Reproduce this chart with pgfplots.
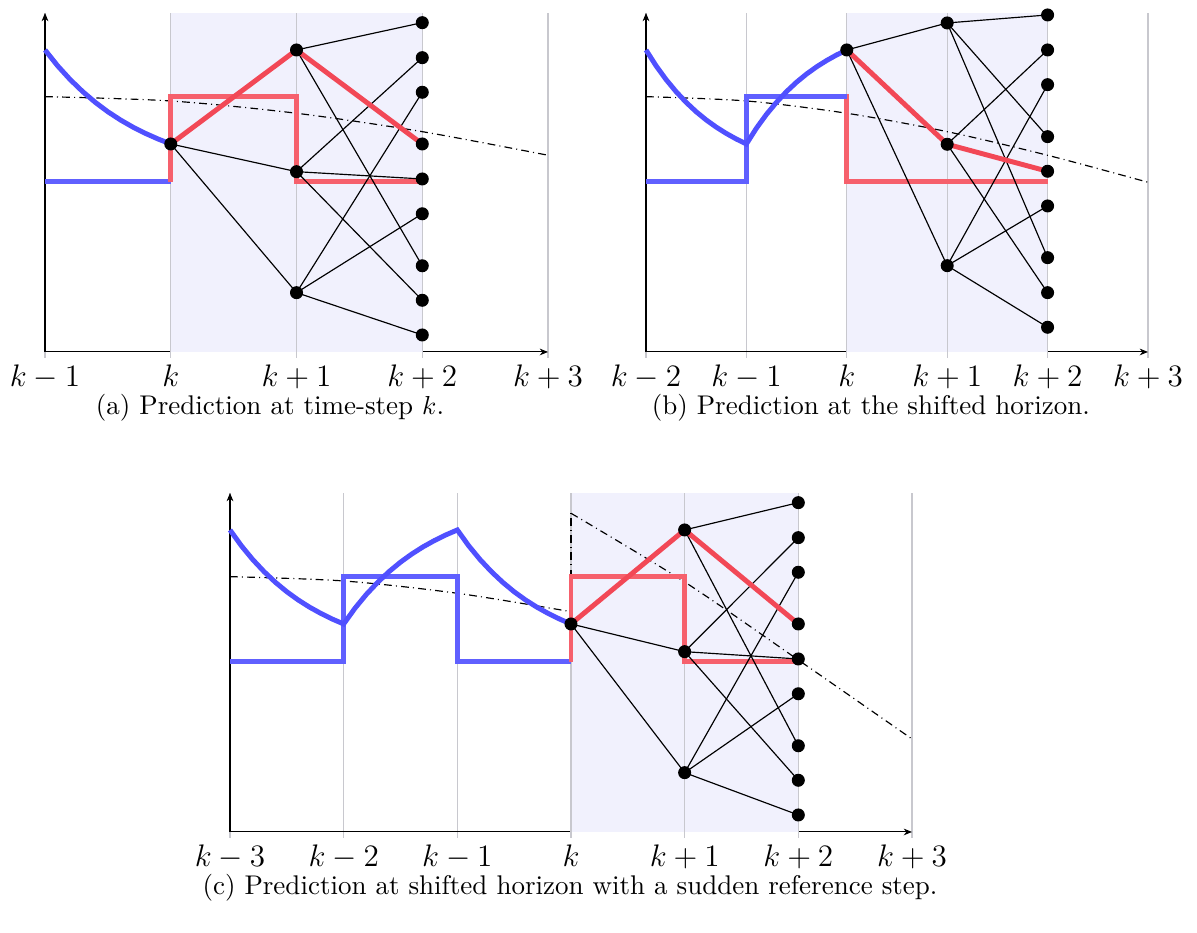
\documentclass[border=0pt]{standalone}
\usepackage{pgfplots}
\pgfplotsset{compat=1.18}
\usetikzlibrary{arrows.meta}

\definecolor{curveblue}{RGB}{80,80,255}
\definecolor{stepblue}{RGB}{96,96,255}
\definecolor{predred}{RGB}{242,72,86}
\definecolor{stepred}{RGB}{246,96,108}
\definecolor{horizon}{RGB}{241,241,253}
\definecolor{gridgray}{RGB}{200,200,206}

\pgfplotsset{
  mpcaxis/.style={
    scale only axis, height=130.52pt,
    axis lines=left,
    axis line style={black, line width=0.4pt, -{Stealth[length=3.2pt,width=2.6pt]}},
    ymin=0, ymax=339, ytick=\empty,
    enlargelimits=false, clip=false,
    xmajorgrids, grid style={gridgray, line width=0.5pt},
    tick align=outside, major tick length=2.3pt,
    xtick style={gridgray, line width=0.5pt},
    xticklabel style={font=\large, yshift=1pt},
  },
  blueline/.style={curveblue, line width=1.9pt},
  bluestep/.style={stepblue, line width=1.9pt},
  redstep/.style={stepred, line width=1.9pt},
  redline/.style={predred, line width=1.9pt},
  edge/.style={black, line width=0.45pt},
  refline/.style={black, line width=0.45pt, dash pattern=on 3pt off 1.6pt on 0.4pt off 1.6pt},
  treenode/.style={only marks, mark=*, mark size=2.3pt, black},
  horizonfill/.style={fill=horizon, draw=none},
  stepline/.style={gridgray, line width=0.5pt},
}

\begin{document}
\begin{tikzpicture}
\useasboundingbox (0,0) rectangle (460.85pt,359.2pt);

% (a) prediction at time-step k
\begin{axis}[mpcaxis, at={(17.33pt,223.69pt)}, anchor=south west,
  width=193.66pt, xmin=0, xmax=4, xtick={0,1,2,3,4},
  xticklabels={$k-1$,$k$,$k+1$,$k+2$,$k+3$}]
\addplot[horizonfill] coordinates {(1,0) (1,339) (3,339) (3,0)} -- cycle;
\addplot[stepline] coordinates {(1,0) (1,339)};
\addplot[stepline] coordinates {(2,0) (2,339)};
\addplot[stepline] coordinates {(3,0) (3,339)};
\addplot[refline, smooth] coordinates {(0,255.3) (1,251) (2,238.7) (3,220.3) (4,196.7)};
\addplot[bluestep] coordinates {(0,170.3) (1,170.3)};
\addplot[redstep] coordinates {(1,170.3) (1,255.3) (2,255.3) (2,170.3) (3,170.3)};
\addplot[blueline] coordinates {(0,302) (0.1,286.2) (0.2,272.4) (0.3,260.3) (0.4,249.6) (0.5,240.2) (0.6,232.0) (0.7,224.8) (0.8,218.5) (0.9,212.9) (1,208)};
\addplot[edge] coordinates {(1,208) (2,302)};
\addplot[edge] coordinates {(1,208) (2,180.3)};
\addplot[edge] coordinates {(1,208) (2,59.3)};
\addplot[edge] coordinates {(2,302) (3,329.3)};
\addplot[edge] coordinates {(2,302) (3,208)};
\addplot[edge] coordinates {(2,302) (3,86.2)};
\addplot[edge] coordinates {(2,180.3) (3,294.3)};
\addplot[edge] coordinates {(2,180.3) (3,173)};
\addplot[edge] coordinates {(2,180.3) (3,51.7)};
\addplot[edge] coordinates {(2,59.3) (3,259.7)};
\addplot[edge] coordinates {(2,59.3) (3,138.2)};
\addplot[edge] coordinates {(2,59.3) (3,17)};
\addplot[redline] coordinates {(1,208) (2,302) (3,208)};
\addplot[treenode] coordinates {(1,208) (2,302) (2,180.3) (2,59.3) (3,329.3) (3,294.3) (3,259.7) (3,208) (3,173) (3,138.2) (3,86.2) (3,51.7) (3,17)};
\end{axis}

% (b) prediction at the shifted horizon
\begin{axis}[mpcaxis, at={(248.71pt,223.69pt)}, anchor=south west,
  width=193.27pt, xmin=0, xmax=5, xtick={0,1,2,3,4,5},
  xticklabels={$k-2$,$k-1$,$k$,$k+1$,$k+2$,$k+3$}]
\addplot[horizonfill] coordinates {(2,0) (2,339) (4,339) (4,0)} -- cycle;
\addplot[stepline] coordinates {(2,0) (2,339)};
\addplot[stepline] coordinates {(3,0) (3,339)};
\addplot[stepline] coordinates {(4,0) (4,339)};
\addplot[refline, smooth] coordinates {(0,255.3) (1,251) (2,238.7) (3,220.3) (4,196.7) (5,169.7)};
\addplot[redstep] coordinates {(1,255.3) (2,255.3) (2,170.3) (4,170.3)};
\addplot[bluestep] coordinates {(0,170.3) (1,170.3) (1,255.3) (2,255.3)};
\addplot[blueline] coordinates {(0,302) (0.1,286.2) (0.2,272.4) (0.3,260.3) (0.4,249.6) (0.5,240.2) (0.6,232.0) (0.7,224.8) (0.8,218.5) (0.9,212.9) (1,208)
  (1.1,223.8) (1.2,237.6) (1.3,249.7) (1.4,260.4) (1.5,269.8) (1.6,278.0) (1.7,285.2) (1.8,291.5) (1.9,297.1) (2,302)};
\addplot[edge] coordinates {(2,302) (3,329)};
\addplot[edge] coordinates {(2,302) (3,207.7)};
\addplot[edge] coordinates {(2,302) (3,86.3)};
\addplot[edge] coordinates {(3,329) (4,337)};
\addplot[edge] coordinates {(3,329) (4,215.3)};
\addplot[edge] coordinates {(3,329) (4,94.3)};
\addplot[edge] coordinates {(3,207.7) (4,302)};
\addplot[edge] coordinates {(3,207.7) (4,180.7)};
\addplot[edge] coordinates {(3,207.7) (4,59.3)};
\addplot[edge] coordinates {(3,86.3) (4,267.3)};
\addplot[edge] coordinates {(3,86.3) (4,146)};
\addplot[edge] coordinates {(3,86.3) (4,24.7)};
\addplot[redline] coordinates {(2,302) (3,207.7) (4,180.7)};
\addplot[treenode] coordinates {(2,302) (3,329) (3,207.7) (3,86.3) (4,337) (4,302) (4,267.3) (4,215.3) (4,180.7) (4,146) (4,94.3) (4,59.3) (4,24.7)};
\end{axis}

% (c) shifted horizon with a sudden reference step
\begin{axis}[mpcaxis, at={(88.55pt,38.89pt)}, anchor=south west,
  width=262.57pt, xmin=0, xmax=6, xtick={0,1,2,3,4,5,6},
  xticklabels={$k-3$,$k-2$,$k-1$,$k$,$k+1$,$k+2$,$k+3$}]
\addplot[horizonfill] coordinates {(3,0) (3,339) (5,339) (5,0)} -- cycle;
\addplot[stepline] coordinates {(3,0) (3,339)};
\addplot[stepline] coordinates {(4,0) (4,339)};
\addplot[stepline] coordinates {(5,0) (5,339)};
\addplot[refline, smooth] coordinates {(0,255.3) (1,251) (2,238.7) (3,220.3)};
\addplot[refline] coordinates {(3,220.3) (3,318.7)};
\addplot[refline, smooth] coordinates {(3,318.7) (4,250) (5,172) (6,93)};
\addplot[bluestep] coordinates {(0,170.3) (1,170.3) (1,255.3) (2,255.3) (2,170.3) (3,170.3)};
\addplot[redstep] coordinates {(3,170.3) (3,255.3) (4,255.3) (4,170.3) (5,170.3)};
\addplot[blueline] coordinates {(0,302) (0.1,286.2) (0.2,272.4) (0.3,260.3) (0.4,249.6) (0.5,240.2) (0.6,232.0) (0.7,224.8) (0.8,218.5) (0.9,212.9) (1,208)
  (1.1,223.8) (1.2,237.6) (1.3,249.7) (1.4,260.4) (1.5,269.8) (1.6,278.0) (1.7,285.2) (1.8,291.5) (1.9,297.1) (2,302)
  (2.1,286.2) (2.2,272.4) (2.3,260.3) (2.4,249.6) (2.5,240.2) (2.6,232.0) (2.7,224.8) (2.8,218.5) (2.9,212.9) (3,208)};
\addplot[edge] coordinates {(3,208) (4,302)};
\addplot[edge] coordinates {(3,208) (4,180.3)};
\addplot[edge] coordinates {(3,208) (4,59.3)};
\addplot[edge] coordinates {(4,302) (5,329.3)};
\addplot[edge] coordinates {(4,302) (5,208)};
\addplot[edge] coordinates {(4,302) (5,86.2)};
\addplot[edge] coordinates {(4,180.3) (5,294.3)};
\addplot[edge] coordinates {(4,180.3) (5,173)};
\addplot[edge] coordinates {(4,180.3) (5,51.7)};
\addplot[edge] coordinates {(4,59.3) (5,259.7)};
\addplot[edge] coordinates {(4,59.3) (5,138.2)};
\addplot[edge] coordinates {(4,59.3) (5,17)};
\addplot[redline] coordinates {(3,208) (4,302) (5,208)};
\addplot[treenode] coordinates {(3,208) (4,302) (4,180.3) (4,59.3) (5,329.3) (5,294.3) (5,259.7) (5,208) (5,173) (5,138.2) (5,86.2) (5,51.7) (5,17)};
\end{axis}

\node at (103.95pt,202.1pt) {\fontsize{10.4}{12}\selectfont (a) Prediction at time-step $k$.};
\node at (335.3pt,202.1pt) {\fontsize{10.4}{12}\selectfont (b) Prediction at the shifted horizon.};
\node at (219.45pt,17.3pt) {\fontsize{10.4}{12}\selectfont (c) Prediction at shifted horizon with a sudden reference step.};
\end{tikzpicture}
\end{document}
